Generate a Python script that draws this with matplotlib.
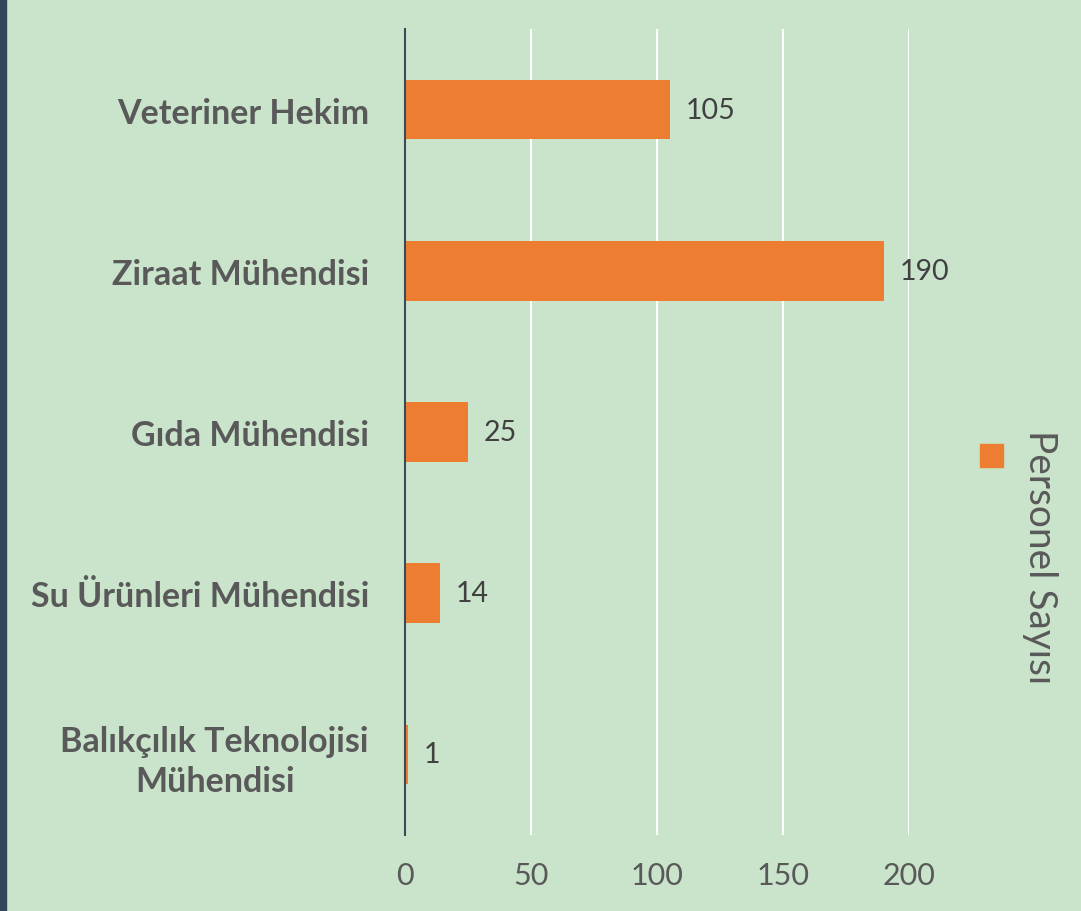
import matplotlib.pyplot as plt
from matplotlib.patches import Rectangle

categories = ["Veteriner Hekim", "Ziraat Mühendisi", "Gıda Mühendisi",
              "Su Ürünleri Mühendisi", "Balıkçılık Teknolojisi\nMühendisi"]
values = [105, 190, 25, 14, 1]
ticks = [0, 50, 100, 150, 200]
series_name = "Personel Sayısı"

bg = "#C9E4CB"
orange = "#ED7D31"

plt.rcParams['font.family'] = ['Lato', 'DejaVu Sans']

fig = plt.figure(figsize=(10.81, 9.12), dpi=100, facecolor=bg)
ax = fig.add_axes([405 / 1081, 1 - 836 / 912, 504 / 1081, 806 / 912])
ax.set_facecolor(bg)

ypos = list(range(len(categories)))
ax.barh(ypos, values, height=0.37, color=orange, zorder=3)
ax.set_ylim(len(categories) - 0.5, -0.5)
ax.set_xlim(0, 200)

for y, v in zip(ypos, values):
    ax.text(v + 6.3, y, str(v), va="center", ha="left", fontsize=20.5, color="#404040")

ax.set_xticks(ticks)
ax.set_xticklabels([str(t) for t in ticks], fontsize=22, color="#595959")
ax.set_yticks(ypos)
ax.set_yticklabels(categories, fontsize=24.5, fontweight="bold", color="#595959",
                   multialignment="center", linespacing=1.3)
ax.tick_params(axis="both", length=0)
ax.tick_params(axis="x", pad=19)
ax.tick_params(axis="y", pad=26)

ax.grid(axis="x", color="white", linewidth=1.5, zorder=0)
for s in ["top", "right", "bottom"]:
    ax.spines[s].set_visible(False)
ax.spines["left"].set_color("#3B4A55")
ax.spines["left"].set_linewidth(1.5)
ax.spines["left"].set_zorder(4)

# legend, drawn rotated like the original
fig.patches.append(Rectangle((980 / 1081, 1 - 468 / 912), 23 / 1081, 23 / 912,
                             transform=fig.transFigure, color=orange))
fig.text(1040 / 1081, 1 - 430 / 912, series_name, rotation=-90, ha="center", va="top",
         fontsize=28, color="#595959")

# dark strip on the left edge
fig.patches.append(Rectangle((0, 0), 6 / 1081, 1, transform=fig.transFigure,
                             color="#33475B"))

fig.savefig("out.png", dpi=100, facecolor=bg)
